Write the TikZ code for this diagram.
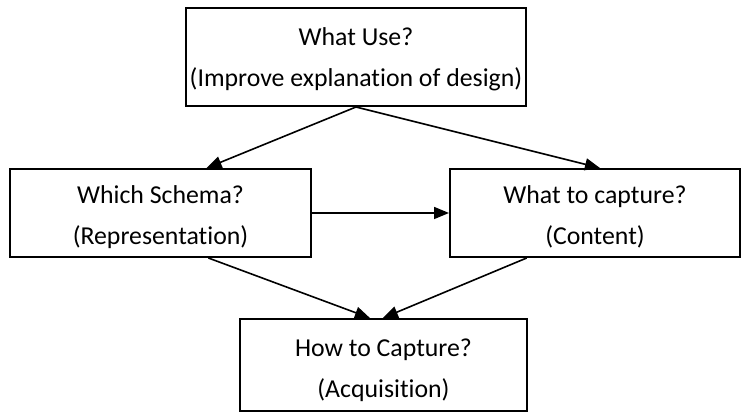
\documentclass[tikz,border=0pt]{standalone}
\usepackage{fontspec}
\setmainfont{Carlito}[Ligatures=NoCommon]
\usetikzlibrary{arrows.meta,calc}

\tikzset{
  box/.style={draw=black, line width=2pt, rectangle, inner sep=0pt},
  txt/.style={align=center, inner sep=0pt, font=\fontsize{25.8}{41}\selectfont},
  link/.style={draw=black, line width=1.6pt, -{Triangle[length=15pt,width=12pt]}},
}

\begin{document}
\begin{tikzpicture}[x=1pt,y=1pt]
  \useasboundingbox (0,0) rectangle (754,419);

  % the four question boxes
  \node[box, minimum width=340pt, minimum height=98pt] (use) at (356,362) {};
  \node[box, minimum width=301pt, minimum height=88pt] (schema) at (160.5,206) {};
  \node[box, minimum width=290pt, minimum height=88pt] (content) at (595,206) {};
  \node[box, minimum width=287pt, minimum height=92pt] (acq) at (383.5,54) {};

  % their texts, set a little below each box's centre
  \node[txt] (use-t) at ([yshift=-2pt]use.center)
    {What Use?\\(Improve explanation of design)};
  \node[txt] (schema-t) at ([yshift=-4pt]schema.center)
    {Which Schema?\\(Representation)};
  \node[txt] (content-t) at ([yshift=-4pt]content.center)
    {What to capture?\\(Content)};
  \node[txt] (acq-t) at ([yshift=-5pt]acq.center)
    {How to Capture?\\(Acquisition)};

  % connectors
  \draw[link] (use.south) -- ($(schema.north west)!0.652!(schema.north east)$);
  \draw[link] (use.south) -- ($(content.north west)!0.517!(content.north east)$);
  \draw[link] (schema.east) -- (content.west);
  \draw[link] ($(schema.south west)!0.658!(schema.south east)$)
    -- ($(acq.north west)!0.453!(acq.north east)$);
  \draw[link] ($(content.south west)!0.266!(content.south east)$)
    -- ($(acq.north west)!0.498!(acq.north east)$);
\end{tikzpicture}
\end{document}
